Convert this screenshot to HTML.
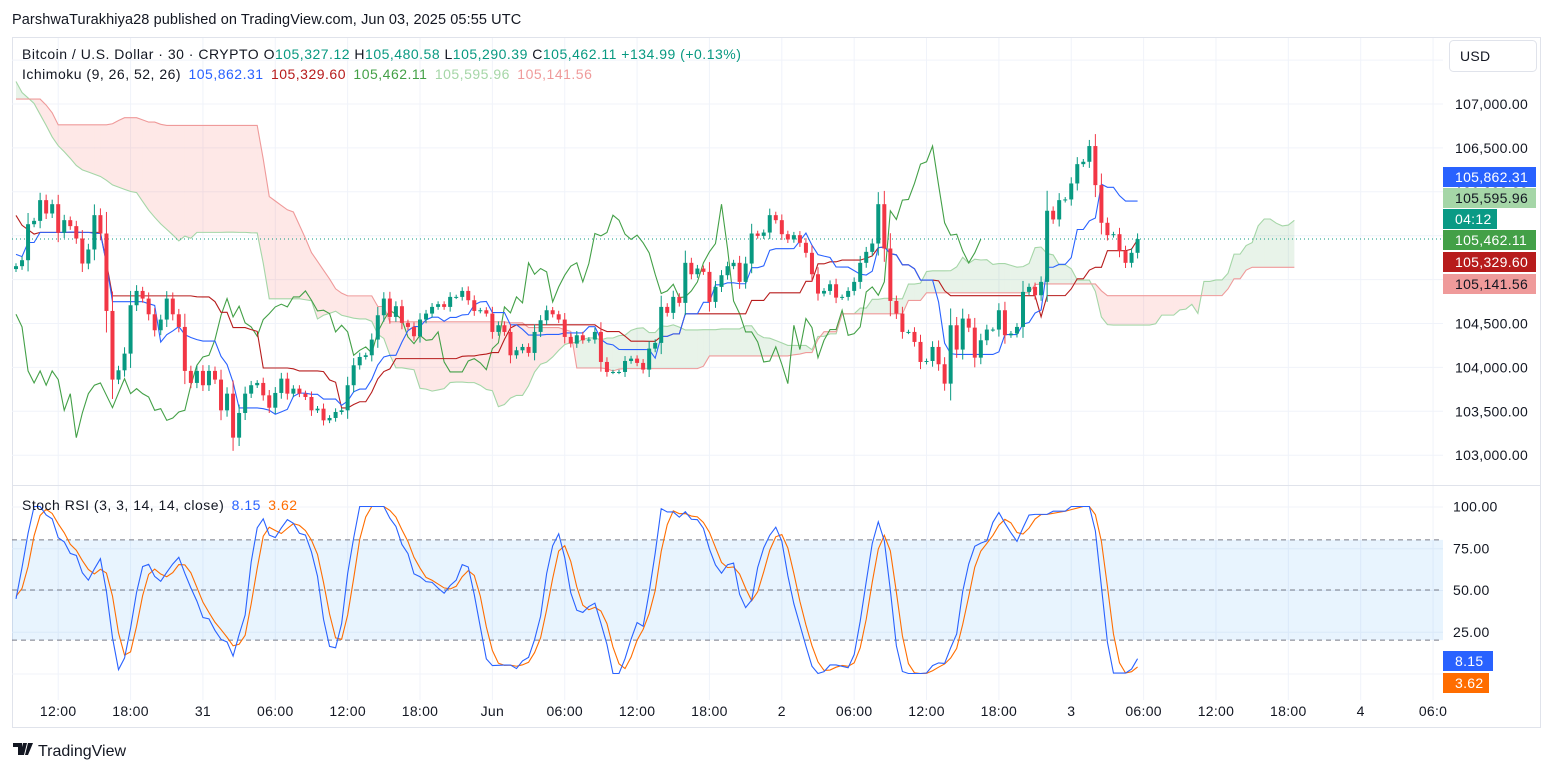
<!DOCTYPE html>
<html><head><meta charset="utf-8"><style>
html,body{margin:0;padding:0;background:#fff;}
body{width:1553px;height:772px;overflow:hidden;font-family:"Liberation Sans",sans-serif;}
svg text{font-family:"Liberation Sans",sans-serif;}
.lg{font-size:14px;letter-spacing:0.5px;}
.ax{font-size:14px;letter-spacing:0.3px;}
</style></head><body>
<svg id="c" width="1553" height="772" xmlns="http://www.w3.org/2000/svg">
<text x="12" y="24" font-size="14.5" fill="#131722" style="letter-spacing:0.1px">ParshwaTurakhiya28 published on TradingView.com, Jun 03, 2025 05:55 UTC</text>
<rect x="12.5" y="37.5" width="1528" height="690" fill="none" stroke="#e0e3eb"/>
<g id="grid"></g>
<g id="main"></g>
<g id="stoch"></g>
<g id="axes"></g>
<line x1="12" y1="485.5" x2="1540" y2="485.5" stroke="#e0e3eb"/>
<g class="lg">
<text x="22" y="59" fill="#131722">Bitcoin / U.S. Dollar · 30 · CRYPTO <tspan>O</tspan><tspan fill="#089981">105,327.12</tspan> H<tspan fill="#089981">105,480.58</tspan> L<tspan fill="#089981">105,290.39</tspan> C<tspan fill="#089981">105,462.11</tspan> <tspan fill="#089981">+134.99 (+0.13%)</tspan></text>
<text x="22" y="79" fill="#131722">Ichimoku (9, 26, 52, 26) <tspan fill="#2962ff" dx="3">105,862.31</tspan> <tspan fill="#b71c1c" dx="3">105,329.60</tspan> <tspan fill="#43a047" dx="3">105,462.11</tspan> <tspan fill="#a5d6a7" dx="3">105,595.96</tspan> <tspan fill="#ef9a9a" dx="3">105,141.56</tspan></text>
</g>
<text x="22" y="510" class="lg" fill="#131722">Stoch RSI (3, 3, 14, 14, close) <tspan fill="#2962ff" dx="3">8.15</tspan> <tspan fill="#ff6d00" dx="3">3.62</tspan></text>
<rect x="1449.5" y="40.5" width="87" height="31" rx="4" fill="#fff" stroke="#e0e3eb"/>
<text x="1460" y="61" class="ax" fill="#131722">USD</text>
<g>
<path d="M13 743h9v12h-4v-8h-5z M23 743h4l-3 12h-4z M28 743h5l-5 12h-3z" fill="#131722"/>
<text x="38" y="756" font-size="16" fill="#131722">TradingView</text>
</g>
</svg>
<script>
const history=[108400,108600,108750,108900,108950,108800,108600,108300,108000,107700,
107300,106900,106500,106100,105700,105400,105180,105300,105600,105900,106200,106500,
106800,107000,107200,107400,107500,107600,107700,107800,107900,107950,108000,108050,
108100,108150,108200,108250,108300,108300,108380,108300,108200,108100,108000,107900,
107800,107500,107200,106900,106700,106500,106300,106100,106000,105900,105800,105700,
105600,105500,105450,105400,105350,105300,105300,105350,105400,105450,105500,105450,
105400,105350,105300,105250,105200,105200,105150,105120];
const closes=[105153,105221,105631,105669,105905,105753,105859,105533,105677,105609,
105468,105183,105343,105734,105525,104643,103861,103967,104157,104708,
104871,104784,104605,104423,104545,104784,104605,104461,103960,103823,
103960,103797,103960,103861,103511,103701,103200,103481,103701,103797,
103823,103682,103541,103709,103872,103701,103758,103701,103663,103511,
103530,103397,103424,103492,103511,103797,104024,104119,104138,104317,
104594,104784,104575,104697,104507,104461,104355,104545,104613,104689,
104720,104689,104803,104803,104871,104765,104643,104651,104613,104404,
104480,104404,104138,104195,104233,104165,104404,104537,104651,104605,
104545,104347,104271,104366,104309,104317,104404,104062,103948,103948,
103948,104073,104100,104051,103975,104214,104279,104689,104621,104803,
104735,105191,105061,105126,105088,104746,104917,105050,105153,105191,
104974,105183,105525,105498,105536,105734,105677,105517,105457,105506,
105419,105305,105061,104841,104871,104947,104795,104803,104871,104974,
105191,105316,105411,105859,105354,104757,104613,104404,104404,104290,
104062,104073,104233,104036,103815,104480,104203,104556,104453,104111,
104309,104431,104431,104651,104366,104385,104461,104860,104917,104822,
104974,105784,105685,105905,105913,106095,106315,106342,106521,106076,
105647,105506,105517,105327,105191,105305,105462];
const priceTicks=[107000,106500,106000,105500,105000,104500,104000,103500,103000];
const priceGrid=[107500,107000,106500,106000,105500,105000,104500,104000,103500,103000];
const stochTicks=[100,75,50,25];
const timeLabels=["12:00","18:00","31","06:00","12:00","18:00","Jun","06:00","12:00","18:00","2","06:00","12:00","18:00","3","06:00","12:00","18:00","4","06:0"];
const timeLabelStart=7, timeLabelStep=12;
const tagValues=[["105,862.31",105862.31,"#2962ff","#fff"],["105,595.96",105595.96,"#a5d6a7","#131722"],["105,462.11",105462.11,"#43a047","#fff"],["105,329.60",105329.60,"#b71c1c","#fff"],["105,141.56",105141.56,"#ef9a9a","#131722"]];

const NS="http://www.w3.org/2000/svg";
const H=history.length;
const all=history.concat(closes);
const N=all.length;
const opens=all.map((c,i)=>i===0?c:all[i-1]);
const highs=all.map((c,i)=>Math.max(c,opens[i])+25+0.25*Math.abs(c-opens[i]));
const lows=all.map((c,i)=>Math.min(c,opens[i])-25-0.25*Math.abs(c-opens[i]));
const X=i=>16+i*6.03;
const Y=p=>104+(107000-p)*0.0878;
const SY=v=>590-(v-50)*1.67;
function el(t,a,p){const e=document.createElementNS(NS,t);for(const k in a)e.setAttribute(k,a[k]);(p||svg).appendChild(e);return e;}
const svg=document.getElementById('c');
const gGrid=document.getElementById('grid'),gMain=document.getElementById('main'),gSt=document.getElementById('stoch'),gAx=document.getElementById('axes');
const defs=el('defs',{});
const cp=el('clipPath',{id:'mc'},defs);el('rect',{x:12,y:38,width:1431,height:447},cp);
const cp2=el('clipPath',{id:'sc'},defs);el('rect',{x:12,y:486,width:1431,height:214},cp2);
gMain.setAttribute('clip-path','url(#mc)');gSt.setAttribute('clip-path','url(#sc)');

priceGrid.forEach(p=>{const l=el('line',{x1:12,x2:1443,y1:Y(p),y2:Y(p),stroke:'#f0f3fa'},gGrid);

});
[100,75,50,25,0].forEach(v=>{const l=el('line',{x1:12,x2:1443,y1:SY(v)+0.5,y2:SY(v)+0.5,stroke:'#f0f3fa'},gGrid);

});
timeLabels.forEach((t,k)=>{const x=X(timeLabelStart+k*timeLabelStep);
const l=el('line',{x1:x,x2:x,y1:38,y2:700,stroke:'#f0f3fa'},gGrid);


const tx=el('text',{x:x,y:716,'class':'ax','text-anchor':'middle',fill:'#131722'},gAx);tx.textContent=t;

});
priceTicks.forEach(p=>{const tx=el('text',{x:1455,y:Y(p)+5,'class':'ax',fill:'#131722'},gAx);
tx.textContent=p.toLocaleString('en-US')+'.00';

});
stochTicks.forEach(v=>{const tx=el('text',{x:1453,y:SY(v)+5,'class':'ax',fill:'#131722'},gAx);
tx.textContent=v.toFixed(2);

});

function mid(g,n){let hi=-1e9,lo=1e9;for(let j=Math.max(0,g-n+1);j<=g;j++){hi=Math.max(hi,highs[j]);lo=Math.min(lo,lows[j]);}return (hi+lo)/2;}
const tenkan=[],kijun=[];for(let g=0;g<N;g++){tenkan.push(mid(g,9));kijun.push(mid(g,26));}
const spanA=[],spanB=[];for(let g=0;g<N;g++){spanA.push((tenkan[g]+kijun[g])/2);spanB.push(mid(g,52));}
const cloudA=[],cloudB=[];
for(let vi=0;vi<closes.length+26;vi++){const g=vi+H-26;cloudA.push(spanA[g]);cloudB.push(spanB[g]);}
for(let i=0;i<cloudA.length-1;i++){
 const up=cloudA[i]>=cloudB[i];
 const pg=el('polygon',{points:`${X(i)},${Y(cloudA[i])} ${X(i+1)},${Y(cloudA[i+1])} ${X(i+1)},${Y(cloudB[i+1])} ${X(i)},${Y(cloudB[i])}`,fill:up?'rgba(67,160,71,0.12)':'rgba(244,67,54,0.12)'},gMain);
 
 
}
function poly(vals,col,name,par,mapY,start){const pts=vals.map((v,i)=>X(i+(start||0))+','+mapY(v)).join(' ');
 const p=el('polyline',{points:pts,fill:'none',stroke:col,'stroke-width':1.1},par);
 
 return p;}
poly(cloudA,'#a5d6a7','senkou-span-a',gMain,Y);
poly(cloudB,'#ef9a9a','senkou-span-b',gMain,Y);
poly(closes.slice(26),'#43a047','chikou-span',gMain,Y);
poly(kijun.slice(H),'#b71c1c','kijun-sen',gMain,Y);
poly(tenkan.slice(H),'#2962ff','tenkan-sen',gMain,Y);
const dl=el('line',{x1:12,x2:1443,y1:Y(closes[closes.length-1]),y2:Y(closes[closes.length-1]),stroke:'#089981','stroke-dasharray':'1 3'},gMain);


closes.forEach((c,i)=>{const g=i+H,o=opens[g],up=c>=o,col=up?'#089981':'#f23645',x=X(i);
 const w=el('line',{x1:x,x2:x,y1:Y(highs[g]),y2:Y(lows[g]),stroke:col},gMain);
 
 
 const t=Y(Math.max(o,c)),b=Y(Math.min(o,c));
 const r=el('rect',{x:x-2,y:t,width:4,height:Math.max(1,b-t),fill:col},gMain);
 
 });
const tagYs=[177,198,240,262,284];
tagValues.forEach((t,k)=>{const y=tagYs[k];const r=el('rect',{x:1443,y:y-10,width:93,height:20,fill:t[2]},gAx);
 
 
 const tx=el('text',{x:1455,y:y+5,'class':'ax',fill:t[3]},gAx);tx.textContent=t[0];});
const cd=el('rect',{x:1443,y:209,width:54,height:20,fill:'#0a9a85'},gAx);


const cdt=el('text',{x:1455,y:224,'class':'ax',fill:'#fff'},gAx);cdt.textContent='04:12';

function rsi(arr,n){const out=new Array(arr.length).fill(null);let ag=0,al=0;
 for(let i=1;i<arr.length;i++){const d=arr[i]-arr[i-1],gn=Math.max(d,0),ls=Math.max(-d,0);
  if(i<=n){ag+=gn/n;al+=ls/n;if(i===n)out[i]=al===0?100:100-100/(1+ag/al);}
  else{ag=(ag*(n-1)+gn)/n;al=(al*(n-1)+ls)/n;out[i]=al===0?100:100-100/(1+ag/al);}}return out;}
const r=rsi(all,14);
const st=r.map((v,i)=>{if(i<28)return null;let hi=-1,lo=1e9;for(let j=i-13;j<=i;j++){hi=Math.max(hi,r[j]);lo=Math.min(lo,r[j]);}return hi===lo?50:(v-lo)/(hi-lo)*100;});
const sma=(a,n)=>a.map((v,i)=>{let s=0;for(let j=i-n+1;j<=i;j++){if(j<0||a[j]==null)return null;s+=a[j];}return s/n;});
const K=sma(st,3),D=sma(K,3);
const band=el('rect',{x:12,y:SY(80),width:1431,height:SY(20)-SY(80),fill:'rgba(33,150,243,0.1)'},gSt);


[80,50,20].forEach(v=>{const l=el('line',{x1:12,x2:1443,y1:SY(v),y2:SY(v),stroke:'#787b86','stroke-dasharray':'5 4'},gSt);
 
 });
poly(D.slice(H),'#ff6d00','stoch-d-line',gSt,SY);
poly(K.slice(H),'#2962ff','stoch-k-line',gSt,SY);
const kt=el('rect',{x:1443,y:651,width:50,height:20,fill:'#2962ff'},gAx);


const ktt=el('text',{x:1455,y:666,'class':'ax',fill:'#fff'},gAx);ktt.textContent='8.15';
const dt=el('rect',{x:1443,y:673,width:46,height:20,fill:'#ff6d00'},gAx);


const dtt=el('text',{x:1455,y:688,'class':'ax',fill:'#fff'},gAx);dtt.textContent='3.62';
</script>
</body></html>
